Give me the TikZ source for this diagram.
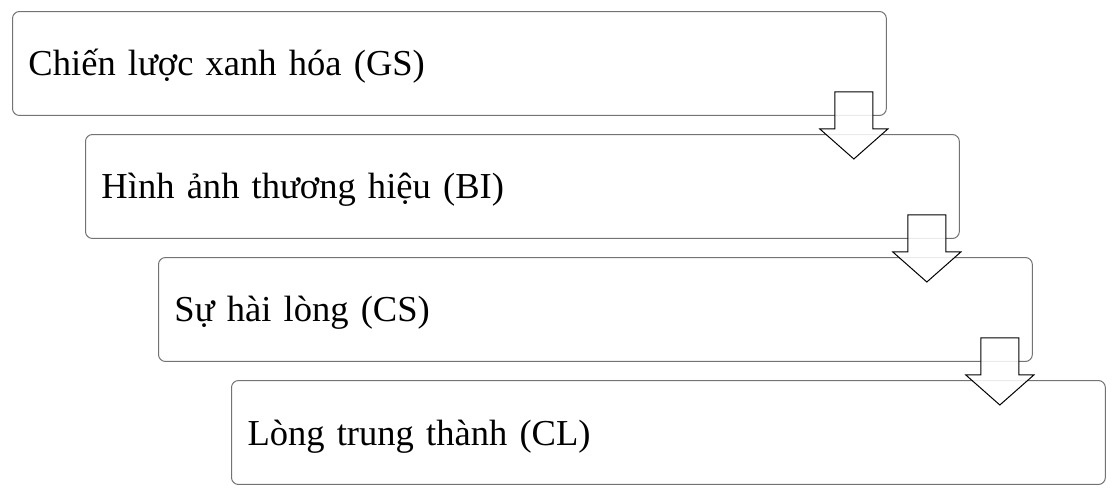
\documentclass[tikz,border=0pt]{standalone}
\usepackage{fontspec}
\setmainfont{Liberation Serif}
\usepackage{tikz}
\usetikzlibrary{calc}
\definecolor{edgegray}{rgb}{0.45,0.45,0.45}

\begin{document}
\begin{tikzpicture}[x=0.02cm, y=-0.02cm, box/.style = {shape=rectangle, draw=edgegray, rounded corners=0.14cm, line width=0.02cm, anchor=north west, align=left, text width=16.84cm, inner xsep=0.32cm, minimum width=17.48cm, minimum height=2.08cm, text height=0.6cm, text depth=0.1cm, font=\fontsize{20.8}{25}\selectfont}, arrowbox/.style = {draw=black, fill=white, fill opacity=0.85, line width=0.02cm, line join=miter}]
	\useasboundingbox (0,0) rectangle (1118,491);
	\node[box] (gs) at (12,11) {Chiến lược xanh hóa (GS)};
	\node[box] (bi) at (85,134) {Hình ảnh thương hiệu (BI)};
	\node[box] (cs) at (158,257) {Sự hài lòng (CS)};
	\node[box] (cl) at (231,380) {Lòng trung thành (CL)};
	\foreach \a in {gs,bi,cs}
		\draw[arrowbox] ($(\a.south east)+(-52,-24)$) -- ++(38,0) -- ++(0,37) -- ++(15,0) -- ++(-34,30) -- ++(-34,-30) -- ++(15,0) -- cycle;
\end{tikzpicture}
\end{document}
